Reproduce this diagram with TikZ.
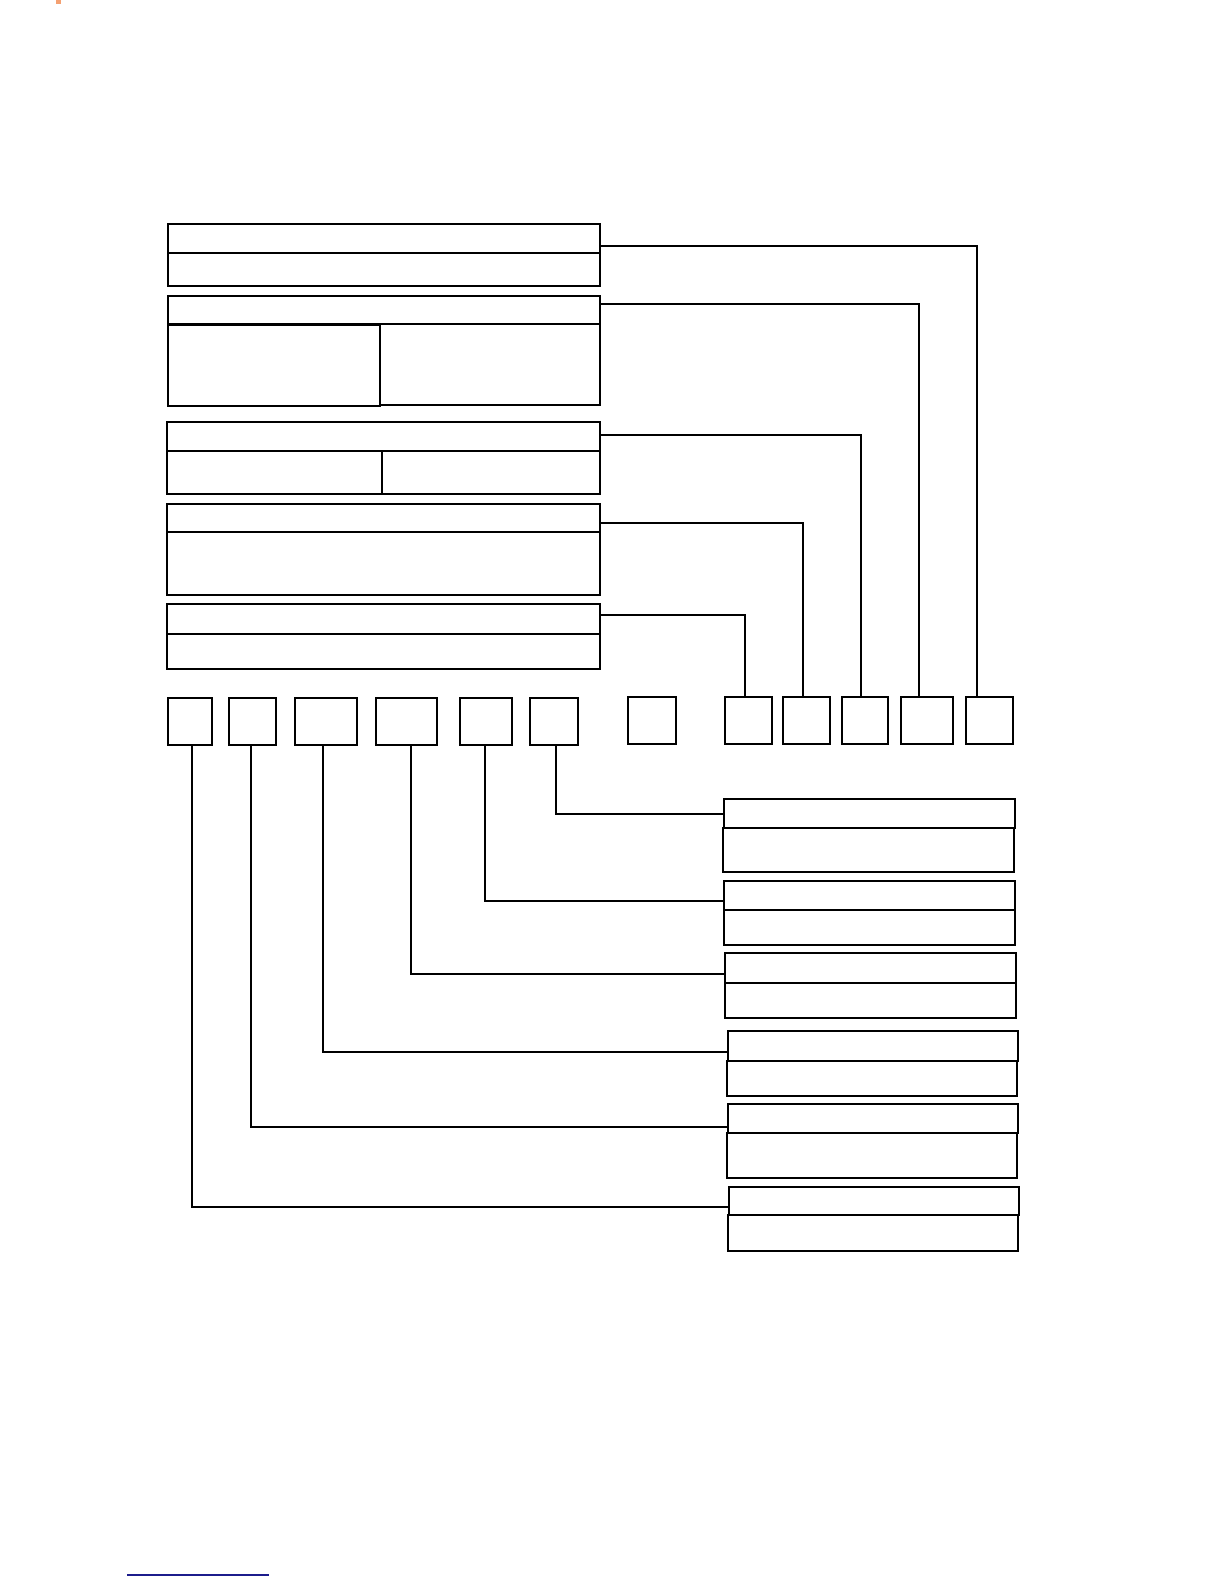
\documentclass[tikz,border=0pt]{standalone}
\usetikzlibrary{fit}
\definecolor{markcol}{HTML}{F4A071}
\definecolor{rulecol}{HTML}{1C1C8C}
\begin{document}
\begin{tikzpicture}[x=0.5pt,y=-0.5pt,
  box/.style={draw=black,line width=0.75pt,inner sep=0pt,fill=white},
  link/.style={draw=black,line width=0.6pt}]
\useasboundingbox (0,0) rectangle (1224,1584);
\newcommand\mybx[5]{\node[box,fit={(#2,#3)(#4,#5)}] (#1) {};}
% top stacked boxes
\mybx{b1t}{168}{224}{600}{253}
\mybx{b1b}{168}{253}{600}{286}
\mybx{b2t}{168}{296}{600}{324}
\mybx{b2l}{168}{325}{380}{406}
\mybx{b2r}{380}{324}{600}{405}
\mybx{b3t}{167}{422}{600}{451}
\mybx{b3l}{167}{451}{382}{494}
\mybx{b3r}{382}{451}{600}{494}
\mybx{b4t}{167}{504}{600}{532}
\mybx{b4b}{167}{532}{600}{595}
\mybx{b5t}{167}{604}{600}{634}
\mybx{b5b}{167}{634}{600}{669}
% small boxes row
\mybx{s1}{168}{698}{212}{745}
\mybx{s2}{229}{698}{276}{745}
\mybx{s3}{295}{698}{357}{745}
\mybx{s4}{376}{698}{437}{745}
\mybx{s5}{460}{698}{512}{745}
\mybx{s6}{530}{698}{578}{745}
\mybx{s7}{628}{697}{676}{744}
\mybx{r1}{725}{697}{772}{744}
\mybx{r2}{783}{697}{830}{744}
\mybx{r3}{842}{697}{888}{744}
\mybx{r4}{901}{697}{953}{744}
\mybx{r5}{966}{697}{1013}{744}
% bottom right boxes
\mybx{at}{724}{799}{1015}{828}
\mybx{ab}{723}{828}{1014}{872}
\mybx{bt}{724}{881}{1015}{910}
\mybx{bb}{724}{910}{1015}{945}
\mybx{ct}{725}{953}{1016}{983}
\mybx{cb}{725}{983}{1016}{1018}
\mybx{dt}{728}{1031}{1018}{1061}
\mybx{db}{727}{1061}{1017}{1096}
\mybx{et}{728}{1104}{1018}{1133}
\mybx{eb}{727}{1133}{1017}{1178}
\mybx{ft}{729}{1187}{1019}{1215}
\mybx{fb}{728}{1215}{1018}{1251}
% connectors top
\draw[link] (b1t.east |- 0,246) -| (977,0 |- r5.north);
\draw[link] (b2t.east |- 0,304) -| (919,0 |- r4.north);
\draw[link] (b3t.east |- 0,435) -| (861,0 |- r3.north);
\draw[link] (b4t.east |- 0,523) -| (803,0 |- r2.north);
\draw[link] (b5t.east |- 0,615) -| (745,0 |- r1.north);
% connectors bottom
\draw[link] (556,0 |- s6.south) |- (at.west |- 0,814);
\draw[link] (485,0 |- s5.south) |- (bt.west |- 0,901);
\draw[link] (411,0 |- s4.south) |- (ct.west |- 0,974);
\draw[link] (323,0 |- s3.south) |- (dt.west |- 0,1052);
\draw[link] (251,0 |- s2.south) |- (et.west |- 0,1127);
\draw[link] (192,0 |- s1.south) |- (ft.west |- 0,1207);
% page marks
\fill[markcol] (56,0) rectangle (61,4);
\draw[rulecol,line width=0.8pt] (127,1575) -- (269,1575);
\end{tikzpicture}
\end{document}
